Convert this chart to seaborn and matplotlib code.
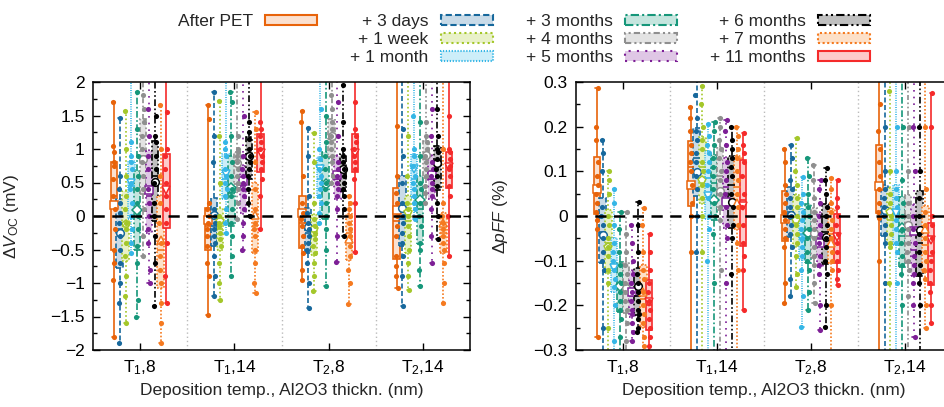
import matplotlib
matplotlib.use('Agg')
import matplotlib.pyplot as plt
from matplotlib.patches import Patch
from matplotlib.ticker import MultipleLocator, FuncFormatter
import seaborn as sns
import pandas as pd

series = ['After PET', '+ 3 days', '+ 1 week', '+ 1 month', '+ 3 months',
          '+ 4 months', '+ 5 months', '+ 6 months', '+ 7 months', '+ 11 months']
colors = ['#e8630a', '#17689c', '#a4c72a', '#35b6e6', '#16977a',
          '#8f8f8f', '#7d1f96', '#000000', '#f57a20', '#f52a2a']
faces = ['#fbe0cf', '#c9dbe8', '#e9f1c9', '#cdeef9', '#c5e5de',
         '#e3e3e3', '#dfc7e5', '#bfbfbf', '#fde0c8', '#fdcaca']
styles = ['-', (0, (3, 1.5)), (0, (1, 1.5)), (0, (0.6, 0.8)), (0, (4, 1.5, 1, 1.5)),
          (0, (3, 1.5, 1, 1.5, 1, 1.5)), (0, (1, 3)), (0, (4, 1.5, 1, 1.5, 1, 1.5)),
          (0, (1, 1.2)), '-']
mean_marks = ['s', 'o', 'p', 'v', 'D', 'o', 's', 'o', '^', 'v']
categories = ['T$_1$,8', 'T$_1$,14', 'T$_2$,8', 'T$_2$,14']

# delta V_OC (mV), one list per series inside each category
voc_t1_8 = [
    [1.70, 1.05, 0.95, 0.80, 0.75, 0.55, 0.3, 0.1, -0.2, -0.5, -0.7, -0.95, -1.80],
    [1.47, 0.6, 0.4, 0.2, 0.05, -0.1, -0.3, -0.5, -0.7, -1.0, -1.3, -1.89],
    [1.57, 1.0, 0.6, 0.3, 0.1, -0.1, -0.2, -0.4, -0.6, -0.9, -1.2, -1.6],
    [2.4, 1.1, 0.9, 0.8, 0.7, 0.5, 0.4, 0.2, 0.0, -0.2, -0.4, -0.55],
    [1.85, 1.3, 0.9, 0.6, 0.4, 0.2, 0.0, -0.2, -0.45, -0.7, -1.25, -1.5],
    [2.2, 1.8, 1.6, 1.4, 1.2, 1.0, 0.8, 0.6, 0.4, 0.1, -0.3, -0.6],
    [2.1, 1.6, 1.2, 0.9, 0.7, 0.4, 0.2, 0.0, -0.2, -0.4, -0.8, -1.0],
    [2.3, 1.5, 1.2, 1.1, 0.9, 0.7, 0.5, 0.2, 0.0, -0.3, -0.7, -1.35],
    [1.65, 1.0, 0.6, 0.2, -0.1, -0.4, -0.6, -0.8, -1.0, -1.3, -1.6, -1.9],
    [2.3, 1.55, 1.0, 0.9, 0.7, 0.5, 0.3, 0.1, -0.1, -0.4, -0.9, -1.3],
]
voc_t1_14 = [
    [1.65, 1.45, 0.2, 0.1, 0.0, -0.1, -0.2, -0.3, -0.45, -0.7, -0.9, -1.48],
    [1.85, 1.2, 0.8, 0.1, 0.0, -0.1, -0.2, -0.3, -0.4, -0.6, -0.9, -1.2],
    [1.72, 1.2, 0.5, 0.0, -0.1, -0.15, -0.25, -0.35, -0.45, -0.7, -1.0, -1.25],
    [2.3, 1.1, 1.0, 0.9, 0.7, 0.6, 0.5, 0.4, 0.3, 0.1, -0.1, -0.25],
    [1.85, 1.7, 1.2, 0.8, 0.6, 0.4, 0.3, 0.1, -0.1, -0.3, -0.6, -0.9],
    [2.3, 1.2, 1.0, 0.95, 0.9, 0.8, 0.7, 0.6, 0.5, 0.4, 0.2, -0.05],
    [2.2, 1.5, 0.9, 0.7, 0.6, 0.5, 0.4, 0.3, 0.1, -0.1, -0.3, -0.5],
    [2.4, 1.4, 1.25, 1.15, 1.0, 0.9, 0.8, 0.7, 0.6, 0.4, 0.2, 0.0],
    [1.55, 1.3, 0.8, 0.4, 0.1, -0.1, -0.2, -0.3, -0.5, -0.7, -1.0, -1.15],
    [2.3, 1.4, 1.3, 1.2, 1.1, 1.0, 0.9, 0.8, 0.7, 0.55, 0.3, -0.2],
]
voc_t2_8 = [
    [1.56, 1.4, 0.6, 0.2, 0.05, -0.05, -0.15, -0.3, -0.45, -0.55, -0.8, -0.95],
    [1.32, 0.9, 0.3, 0.05, -0.1, -0.2, -0.3, -0.4, -0.5, -0.7, -1.0, -1.37],
    [1.24, 0.8, 0.2, -0.05, -0.15, -0.25, -0.35, -0.45, -0.55, -0.7, -0.9, -1.12],
    [2.3, 1.6, 1.0, 0.85, 0.7, 0.6, 0.5, 0.4, 0.3, 0.2, 0.05, -0.1],
    [2.1, 1.5, 1.1, 0.9, 0.7, 0.5, 0.4, 0.2, 0.0, -0.2, -0.5, -1.05],
    [2.2, 1.8, 1.6, 1.4, 1.3, 1.2, 1.1, 1.0, 0.9, 0.8, 0.6, 0.5],
    [2.1, 1.7, 1.2, 0.8, 0.7, 0.6, 0.5, 0.4, 0.3, 0.1, -0.3, -0.68],
    [1.96, 1.4, 1.0, 0.9, 0.8, 0.7, 0.6, 0.5, 0.4, 0.3, 0.1, -0.3],
    [0.3, 0.2, 0.1, 0.0, -0.1, -0.2, -0.3, -0.45, -0.6, -0.8, -1.0, -1.32],
    [2.3, 1.7, 1.3, 1.2, 1.1, 1.0, 0.9, 0.8, 0.7, 0.55, 0.2, -0.53],
]
voc_t2_14 = [
    [2.3, 1.35, 0.6, 0.35, 0.2, 0.0, -0.15, -0.3, -0.6, -0.75, -0.9, -1.08],
    [2.2, 1.3, 0.9, 0.5, 0.2, 0.0, -0.1, -0.25, -0.4, -0.6, -0.9, -1.35],
    [2.2, 1.2, 0.6, 0.2, 0.1, 0.0, -0.15, -0.3, -0.5, -0.7, -0.9, -1.1],
    [2.3, 1.5, 1.0, 0.9, 0.75, 0.6, 0.5, 0.4, 0.3, 0.2, 0.1, -0.05],
    [2.3, 1.4, 0.9, 0.5, 0.4, 0.2, 0.0, -0.15, -0.4, -0.5, -0.8, -1.05],
    [2.2, 1.4, 1.2, 1.1, 1.0, 0.9, 0.8, 0.7, 0.6, 0.45, 0.35, 0.2],
    [2.1, 1.6, 1.2, 0.8, 0.7, 0.6, 0.5, 0.4, 0.3, 0.1, -0.3, -0.7],
    [2.3, 1.6, 1.2, 1.0, 0.95, 0.85, 0.7, 0.6, 0.45, 0.2, 0.0, -0.35],
    [2.1, 1.0, 0.2, 0.0, -0.1, -0.2, -0.3, -0.4, -0.5, -0.7, -1.0, -1.3],
    [2.2, 1.5, 1.0, 0.95, 0.85, 0.75, 0.7, 0.6, 0.45, 0.3, 0.0, -0.6],
]

# delta pFF (%)
pff_t1_8 = [
    [0.287, 0.2, 0.17, 0.12, 0.09, 0.07, 0.05, 0.03, 0.01, -0.01, -0.03, -0.27],
    [0.17, 0.14, 0.1, 0.02, 0.0, -0.02, -0.05, -0.08, -0.1, -0.12, -0.25, -0.32],
    [0.1, 0.08, 0.05, 0.0, -0.02, -0.05, -0.07, -0.09, -0.12, -0.15, -0.25, -0.32],
    [0.06, 0.03, -0.02, -0.06, -0.08, -0.1, -0.12, -0.14, -0.16, -0.2, -0.28, -0.33],
    [0.01, -0.03, -0.08, -0.11, -0.13, -0.15, -0.17, -0.19, -0.21, -0.23, -0.27, -0.33],
    [0.008, -0.04, -0.08, -0.11, -0.13, -0.15, -0.17, -0.19, -0.21, -0.24, -0.28, -0.33],
    [-0.02, -0.06, -0.1, -0.13, -0.15, -0.17, -0.19, -0.21, -0.22, -0.24, -0.26, -0.28],
    [0.032, -0.02, -0.08, -0.13, -0.15, -0.17, -0.19, -0.21, -0.22, -0.23, -0.25, -0.26],
    [0.018, -0.02, -0.08, -0.12, -0.14, -0.17, -0.2, -0.22, -0.24, -0.27, -0.29, -0.32],
    [-0.04, -0.08, -0.12, -0.15, -0.17, -0.19, -0.21, -0.23, -0.25, -0.27, -0.29, -0.32],
]
pff_t1_14 = [
    [0.245, 0.22, 0.19, 0.16, 0.14, 0.12, 0.1, 0.07, 0.03, 0.0, -0.08, -0.35],
    [0.35, 0.27, 0.22, 0.19, 0.17, 0.14, 0.12, 0.09, 0.06, 0.0, -0.08, -0.35],
    [0.29, 0.25, 0.2, 0.17, 0.15, 0.12, 0.1, 0.07, 0.04, 0.0, -0.08, -0.35],
    [0.205, 0.18, 0.16, 0.14, 0.12, 0.1, 0.07, 0.04, 0.0, -0.03, -0.1, -0.35],
    [0.21, 0.19, 0.16, 0.13, 0.11, 0.09, 0.06, 0.03, 0.0, -0.04, -0.15, -0.35],
    [0.22, 0.2, 0.17, 0.15, 0.13, 0.1, 0.08, 0.05, 0.02, -0.01, -0.12, -0.33],
    [0.215, 0.19, 0.16, 0.12, 0.1, 0.08, 0.05, 0.02, -0.02, -0.05, -0.15, -0.35],
    [0.2, 0.17, 0.15, 0.13, 0.11, 0.09, 0.05, 0.02, -0.02, -0.05, -0.13, -0.35],
    [0.2, 0.18, 0.15, 0.13, 0.1, 0.08, 0.05, 0.02, -0.02, -0.06, -0.12, -0.35],
    [0.185, 0.16, 0.14, 0.12, 0.09, 0.05, 0.02, -0.02, -0.06, -0.09, -0.12, -0.21],
]
pff_t2_8 = [
    [0.15, 0.12, 0.07, 0.05, 0.03, 0.01, -0.01, -0.03, -0.05, -0.07, -0.15, -0.195],
    [0.16, 0.13, 0.08, 0.06, 0.04, 0.02, 0.0, -0.02, -0.04, -0.07, -0.14, -0.18],
    [0.174, 0.1, 0.07, 0.04, 0.02, 0.0, -0.02, -0.04, -0.06, -0.09, -0.13, -0.16],
    [0.088, 0.05, 0.03, 0.01, -0.01, -0.03, -0.05, -0.07, -0.09, -0.12, -0.18, -0.248],
    [0.13, 0.09, 0.05, 0.02, 0.0, -0.03, -0.05, -0.08, -0.1, -0.12, -0.17, -0.21],
    [0.114, 0.08, 0.04, 0.01, -0.01, -0.03, -0.05, -0.07, -0.09, -0.11, -0.15, -0.195],
    [0.08, 0.06, 0.03, 0.0, -0.02, -0.04, -0.06, -0.09, -0.11, -0.13, -0.2, -0.255],
    [0.107, 0.08, 0.05, 0.02, 0.0, -0.02, -0.05, -0.07, -0.1, -0.13, -0.2, -0.248],
    [0.084, 0.06, 0.03, 0.01, -0.01, -0.03, -0.05, -0.08, -0.1, -0.12, -0.2, -0.33],
    [0.08, 0.04, 0.02, 0.0, -0.02, -0.04, -0.06, -0.08, -0.1, -0.12, -0.14, -0.155],
]
pff_t2_14 = [
    [0.35, 0.25, 0.19, 0.15, 0.12, 0.09, 0.06, 0.03, 0.01, -0.005, -0.1, -0.35],
    [0.35, 0.2, 0.1, 0.06, 0.04, 0.02, 0.0, -0.02, -0.04, -0.06, -0.15, -0.35],
    [0.35, 0.28, 0.1, 0.05, 0.03, 0.0, -0.02, -0.04, -0.06, -0.07, -0.15, -0.35],
    [0.35, 0.2, 0.1, 0.06, 0.04, 0.02, -0.01, -0.03, -0.06, -0.08, -0.15, -0.35],
    [0.35, 0.2, 0.08, 0.03, 0.0, -0.03, -0.06, -0.09, -0.11, -0.13, -0.2, -0.35],
    [0.35, 0.2, 0.1, 0.03, 0.0, -0.03, -0.06, -0.08, -0.1, -0.12, -0.18, -0.35],
    [0.35, 0.2, 0.1, 0.0, -0.03, -0.06, -0.09, -0.11, -0.13, -0.15, -0.2, -0.27],
    [0.35, 0.2, 0.1, 0.04, 0.0, -0.04, -0.08, -0.11, -0.13, -0.15, -0.2, -0.35],
    [0.35, 0.2, 0.06, 0.01, -0.02, -0.05, -0.08, -0.1, -0.12, -0.14, -0.2, -0.25],
    [0.275, 0.2, 0.0, -0.02, -0.05, -0.08, -0.1, -0.12, -0.15, -0.17, -0.2, -0.24],
]

sns.set_theme(style='ticks')
plt.rcParams['font.family'] = ['Liberation Sans', 'DejaVu Sans']
plt.rcParams['mathtext.fontset'] = 'custom'
plt.rcParams['mathtext.rm'] = 'Liberation Sans'
plt.rcParams['mathtext.it'] = 'Liberation Sans:italic'

step = 0.062  # spacing of the series inside one category


def long_table(groups):
    rows = []
    for c, cat in enumerate(groups):
        for s, vals in enumerate(cat):
            for v in vals:
                rows.append((c + 1 + (s - 4.5) * step, s, v))
    return pd.DataFrame(rows, columns=['pos', 'series', 'val'])


def gnuplot_fmt(v, _):
    txt = '%g' % round(v, 6)
    if txt == '-0':
        txt = '0'
    return txt.replace('-', '\u2212')


def draw_panel(ax, groups, ylim, major, minor, ylabel):
    df = long_table(groups)
    for s in range(len(series)):
        sub = df[df['series'] == s]
        sns.boxplot(data=sub, x='pos', y='val', native_scale=True, ax=ax,
                    width=0.068, color=faces[s], saturation=1, linecolor=colors[s],
                    linewidth=1.2, whis=(0, 100), showmeans=True,
                    boxprops=dict(linestyle=styles[s]),
                    whiskerprops=dict(linestyle=styles[s]),
                    medianprops=dict(linestyle='-'),
                    meanprops=dict(marker=mean_marks[s], markerfacecolor='white',
                                   markeredgecolor=colors[s], markersize=5.5,
                                   markeredgewidth=1.1))
        sns.stripplot(data=sub, x='pos', y='val', native_scale=True, ax=ax,
                      jitter=0.012, color=colors[s], size=3.7, linewidth=0)
    ax.axhline(0, color='black', lw=1.8, ls=(0, (4.5, 3)), zorder=5)
    for xv in [1.5, 2.5, 3.5]:
        ax.axvline(xv, color='#bbbbbb', lw=1.0, ls=(0, (1, 2)), zorder=0)
    ax.set_xlim(0.5, 4.5)
    ax.set_ylim(*ylim)
    ax.set_xticks([1, 2, 3, 4])
    ax.set_xticklabels(categories)
    ax.yaxis.set_major_locator(MultipleLocator(major))
    ax.yaxis.set_minor_locator(MultipleLocator(minor))
    ax.yaxis.set_major_formatter(FuncFormatter(gnuplot_fmt))
    ax.tick_params(which='both', direction='in', top=True, right=True,
                   labelsize=12.5, width=1.0, colors='black')
    ax.tick_params(which='major', length=5, pad=6)
    ax.tick_params(which='minor', length=3)
    ax.tick_params(axis='x', which='minor', bottom=False, top=False)
    for sp in ax.spines.values():
        sp.set_linewidth(1.1)
        sp.set_color('black')
    ax.set_xlabel('Deposition temp., Al2O3 thickn. (nm)', fontsize=12.5, labelpad=4)
    ax.set_ylabel(ylabel, fontsize=12.5)


fig = plt.figure(figsize=(9.44, 4.07), dpi=100)
ax1 = fig.add_axes([93 / 944, 57 / 407, 377 / 944, 268 / 407])
ax2 = fig.add_axes([576 / 944, 57 / 407, 376 / 944, 268 / 407])

draw_panel(ax1, [voc_t1_8, voc_t1_14, voc_t2_8, voc_t2_14], (-2, 2), 0.5, 0.25,
           r'$\Delta V_{\rm OC}$ (mV)')
draw_panel(ax2, [pff_t1_8, pff_t1_14, pff_t2_8, pff_t2_14], (-0.3, 0.3), 0.1, 0.05,
           r'$\Delta pFF$ (%)')
ax1.yaxis.set_label_coords(-0.19, 0.5)
ax2.yaxis.set_label_coords(-0.175, 0.5)

blank = Patch(facecolor='none', edgecolor='none')
handles = [Patch(facecolor=faces[i], edgecolor=colors[i], linestyle=styles[i], linewidth=1.5)
           for i in range(len(series))]
handles = [handles[0], blank, blank] + handles[1:]
labels = [series[0], '', ''] + series[1:]
fig.legend(handles, labels, ncol=4, loc='upper left', bbox_to_anchor=(178 / 944, 1 - 14 / 407),
           frameon=False, markerfirst=False, handlelength=3.0, handleheight=0.55,
           handletextpad=0.7, columnspacing=1.9, labelspacing=0.18, fontsize=12.5,
           borderpad=0, borderaxespad=0)

fig.savefig('out.png', dpi=100)
